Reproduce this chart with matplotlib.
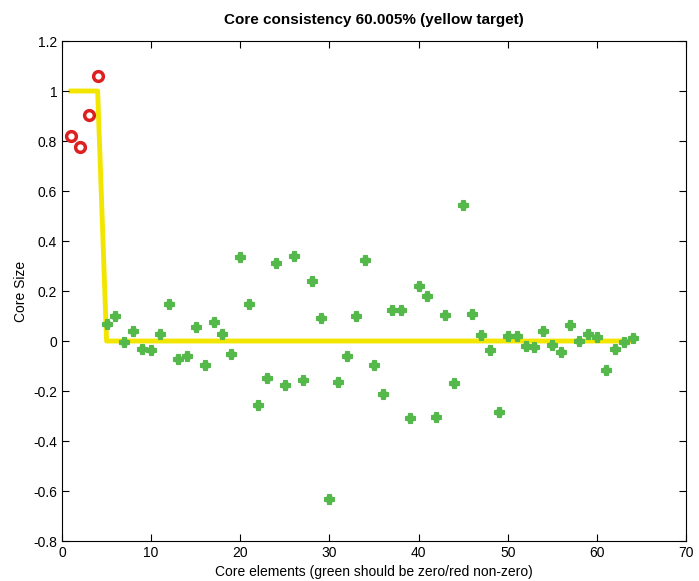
import matplotlib
matplotlib.use("Agg")
import matplotlib.pyplot as plt

plt.rcParams['font.family'] = ['Liberation Sans', 'DejaVu Sans']

# core elements that should be non-zero (red) and zero (green)
red_x = [1, 2, 3, 4]
red_y = [0.819, 0.776, 0.903, 1.061]

green_x = list(range(5, 65))
green_y = [0.068, 0.099, -0.004, 0.04, -0.032, -0.036, 0.03, 0.15, -0.072, -0.061,
           0.057, -0.097, 0.075, 0.03, -0.05, 0.336, 0.15, -0.256, -0.146, 0.312,
           -0.175, 0.339, -0.157, 0.241, 0.091, -0.633, -0.165, -0.06, 0.1, 0.323,
           -0.095, -0.212, 0.123, 0.123, -0.308, 0.221, 0.181, -0.305, 0.105, -0.169,
           0.543, 0.109, 0.023, -0.036, -0.283, 0.02, 0.02, -0.021, -0.024, 0.04,
           -0.015, -0.044, 0.063, -0.001, 0.03, 0.015, -0.116, -0.031, -0.005, 0.011]

# yellow target
target_x = [1, 2, 3, 4] + list(range(5, 65))
target_y = [1, 1, 1, 1] + [0] * 60

fig = plt.figure(figsize=(6.99, 5.81), dpi=100)
ax = fig.add_axes([0.0887, 0.0688, 0.8927, 0.8606])

ax.plot(target_x, target_y, color='#f2e600', linewidth=3.5, zorder=1)
# rounded clover look: filled plus over a small disc
ax.plot(green_x, green_y, linestyle='none', marker='o', markersize=6,
        color='#55b84a', markeredgewidth=0, zorder=2)
ax.plot(green_x, green_y, linestyle='none', marker='P', markersize=7.5,
        color='#55b84a', markeredgewidth=0.8, markeredgecolor='#55b84a', zorder=2)
ax.plot(red_x, red_y, linestyle='none', marker='o', markersize=7,
        markerfacecolor='white', markeredgecolor='#dd2020', markeredgewidth=2.5, zorder=3)

ax.set_xlim(0, 70)
ax.set_ylim(-0.8, 1.2)
ax.set_xticks(range(0, 71, 10))
ax.set_yticks([-0.8, -0.6, -0.4, -0.2, 0, 0.2, 0.4, 0.6, 0.8, 1, 1.2])
ax.set_yticklabels(['-0.8', '-0.6', '-0.4', '-0.2', '0', '0.2', '0.4', '0.6', '0.8', '1', '1.2'])
ax.tick_params(direction='in', top=True, right=True, labelsize=10, length=5)

ax.set_title('Core consistency 60.005% (yellow target)', fontsize=11, fontweight='bold', pad=12)
ax.set_xlabel('Core elements (green should be zero/red non-zero)', fontsize=10, labelpad=4)
ax.set_ylabel('Core Size', fontsize=10)

fig.savefig('out.png', dpi=100)
